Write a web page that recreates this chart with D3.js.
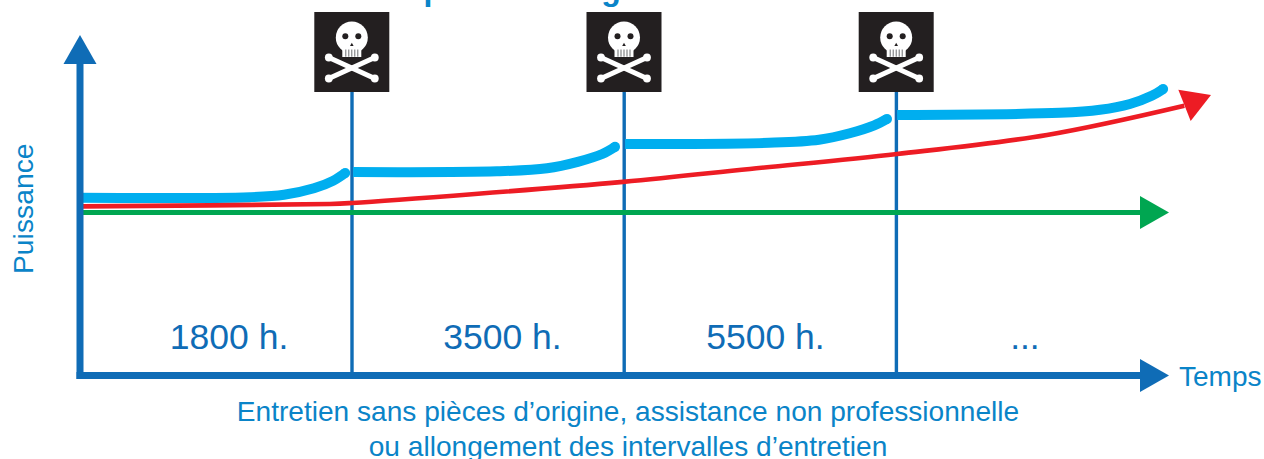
<!DOCTYPE html>
<html><head><meta charset="utf-8">
<style>html,body{margin:0;padding:0;background:#fff;overflow:hidden}svg{display:block}text{font-family:"Liberation Sans",Arial,sans-serif}</style>
<script src="https://cdnjs.cloudflare.com/ajax/libs/d3/7.8.5/d3.min.js"></script>
</head><body><svg id="c" width="1264" height="459"></svg>
<script>
const title = "Sans pièces d’origine ni entretien";
const intervalLabels = ["1800 h.", "3500 h.", "5500 h.", "..."];
const intervalMarks = [1, 2, 3];
const yLabel = "Puissance", xLabel = "Temps";
const footLines = ["Entretien sans pièces d’origine, assistance non professionnelle", "ou allongement des intervalles d’entretien"];
const blue1 = [[0,52.4],[0.625,52.6],[0.75,53.3],[0.86,55.2],[0.93,57.4],[0.975,59.7]];
const blue2 = [[1.004,60],[1.533,60.2],[1.717,61.1],[1.83,63],[1.92,65.3],[1.967,67.4]];
const blue3 = [[2.004,68.2],[2.533,68.6],[2.717,69.5],[2.83,71.4],[2.92,73.7],[2.967,75.6]];
const blue4 = [[3.004,76.8],[3.603,77.4],[3.75,78.3],[3.86,80],[3.94,82.4],[3.982,84.4]];
const redLine = [[0.011,49.9],[0.919,50.6],[1,50.9],[1.996,57.1],[2.463,60.9],[3.004,65.3],[3.555,70.9],[4.06,79.5]];
const greenLine = [[0.01,48.1],[3.97,48.1]];

const svg = d3.select("#c");
const x = d3.scaleLinear().domain([0,4]).range([80,1168]);
const y = d3.scaleLinear().domain([0,100]).range([376,36]);
const line = d3.line().x(d=>x(d[0])).y(d=>y(d[1])).curve(d3.curveCatmullRom.alpha(0.5));
const AXIS="#0f6cb6", TXT="#0a84c8";

function tri(tip, angle, len, half, fill){
  svg.append("path").attr("d",`M${len},0L0,${-half}L0,${half}Z`)
   .attr("fill",fill)
   .attr("transform",`translate(${tip[0]},${tip[1]}) rotate(${angle}) translate(${-len},0)`);
}

// title (clipped by the page top)
svg.append("text").attr("x",338).attr("y",0.3)
  .attr("font-size",32).attr("font-weight",700).attr("fill",TXT).text(title);

// vertical markers
svg.selectAll("line.v").data(intervalMarks).join("line").attr("class","v")
  .attr("x1",d=>x(d)+(d-1)*0.2).attr("x2",d=>x(d)+(d-1)*0.2).attr("y1",90).attr("y2",374)
  .attr("stroke",AXIS).attr("stroke-width",3.4);

// curves
[blue1,blue2,blue3,blue4].forEach(s=>{
  svg.append("path").attr("d",line(s)).attr("fill","none").attr("stroke","#00aeef").attr("stroke-width",10);
  const e=s[s.length-1];
  svg.append("circle").attr("cx",x(e[0])).attr("cy",y(e[1])).attr("r",5).attr("fill","#00aeef");
});
svg.append("path").attr("d",line(redLine)).attr("fill","none").attr("stroke","#ed1c24").attr("stroke-width",4.6);
tri([1211,95],-21.6,28.5,16.8,"#ed1c24");
svg.append("path").attr("d",line(greenLine)).attr("fill","none").attr("stroke","#00a651").attr("stroke-width",5);
tri([1169,y(48.1)],0,29,16.5,"#00a651");

// axes
svg.append("line").attr("x1",x(0)).attr("x2",x(0)).attr("y1",y(0)+3).attr("y2",62)
  .attr("stroke",AXIS).attr("stroke-width",7);
tri([x(0),35],-90,29,16.5,AXIS);
svg.append("line").attr("x1",x(0)-3.5).attr("x2",1142).attr("y1",y(0)-0.5).attr("y2",y(0)-0.5)
  .attr("stroke",AXIS).attr("stroke-width",7);
tri([1169,375.6],0,29,16.5,AXIS);

// skull flags
function flag(cx){
  const g=svg.append("g").attr("transform",`translate(${cx},0)`);
  g.append("rect").attr("x",-37.5).attr("y",12).attr("width",75).attr("height",80).attr("fill","#231f20");
  const bone=(x1,y1,x2,y2)=>{
    g.append("line").attr("x1",x1).attr("y1",y1).attr("x2",x2).attr("y2",y2).attr("stroke","#fff").attr("stroke-width",5);
    [[x1,y1],[x2,y2]].forEach(p=>{
      g.append("circle").attr("cx",p[0]).attr("cy",p[1]).attr("r",3.9).attr("fill","#fff");
    });
  };
  bone(-23,57.5,23,78.5); bone(23,57.5,-23,78.5);
  g.append("circle").attr("cx",0).attr("cy",37.5).attr("r",16).attr("fill","#fff");
  g.append("rect").attr("x",-9.5).attr("y",46).attr("width",19).attr("height",11).attr("fill","#fff");
  g.selectAll("circle.e").data([-6.5,6.5]).join("circle").attr("cx",d=>d).attr("cy",36.3).attr("r",3).attr("fill","#231f20");
  g.append("path").attr("d","M0,42.7L1.8,46L-1.8,46Z").attr("fill","#231f20");
  g.selectAll("rect.t").data([-6,-3,0,3,6]).join("rect").attr("x",d=>d-0.5).attr("y",49.5).attr("width",1).attr("height",7.2).attr("fill","#6d6e71");
}
intervalMarks.forEach(d=>flag(x(d)-0.2+(d-1)*0.2));

// labels
const labelAt = i => x([0.548,1.553,2.52,3.474][i]);
svg.selectAll("text.iv").data(intervalLabels).join("text").attr("class","iv")
  .attr("x",(d,i)=>labelAt(i)).attr("y",349).attr("text-anchor","middle")
  .attr("font-size",35.5).attr("fill",AXIS).text(d=>d);
svg.append("text").attr("transform","translate(33,274) rotate(-90)").attr("font-size",28.3).attr("fill",TXT).text(yLabel);
svg.append("text").attr("x",1179).attr("y",386).attr("font-size",28).attr("fill",TXT).text(xLabel);
svg.selectAll("text.ft").data(footLines).join("text").attr("class","ft")
  .attr("x",628).attr("y",(d,i)=>421+i*35).attr("text-anchor","middle")
  .attr("font-size",28.1).attr("fill",TXT).text(d=>d);
</script></body></html>
